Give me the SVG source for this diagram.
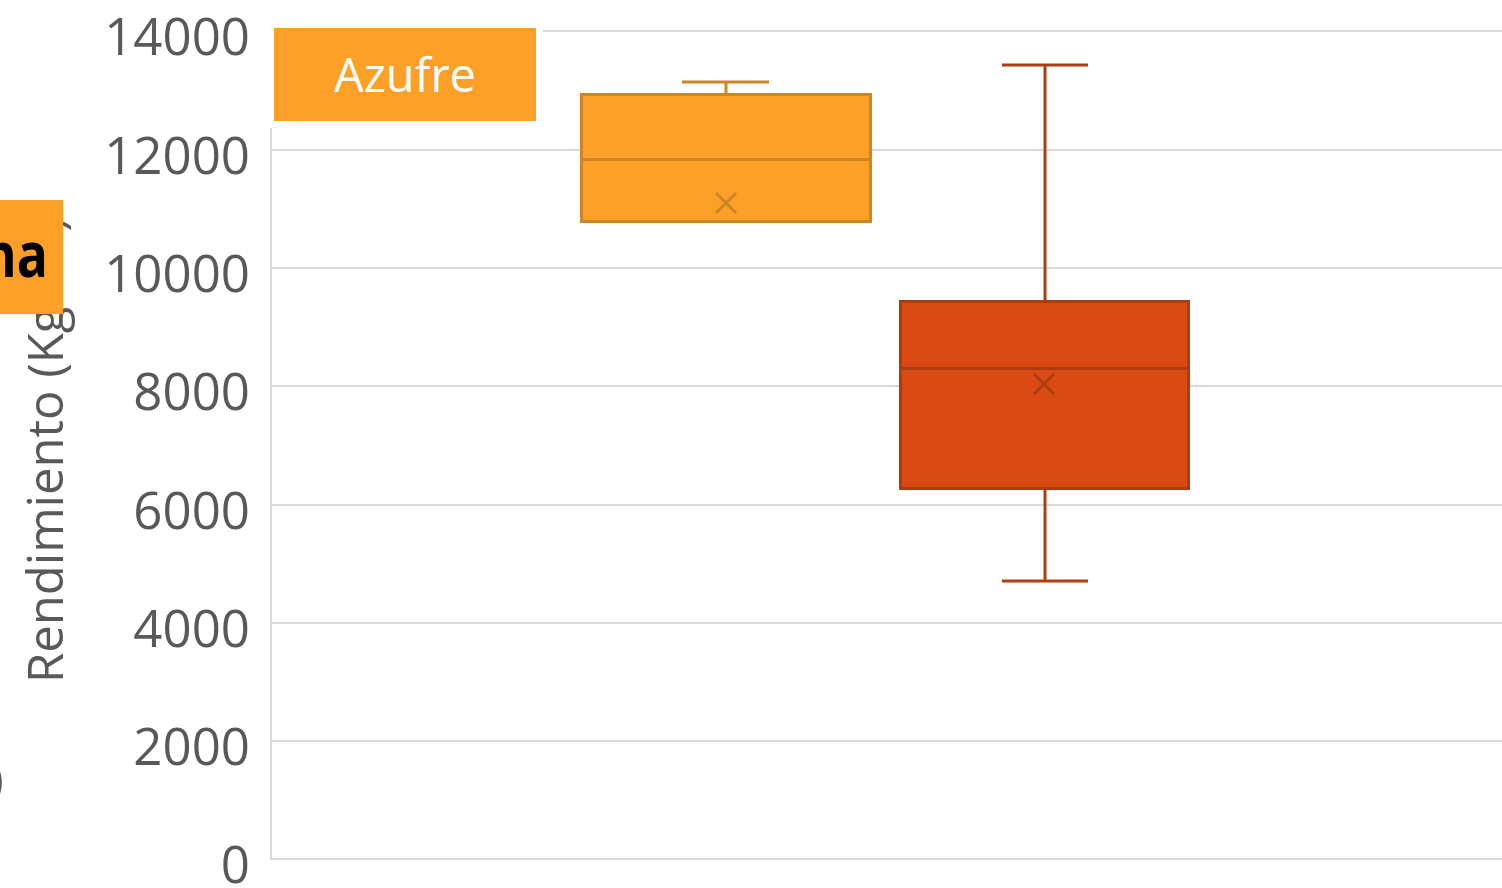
<svg xmlns="http://www.w3.org/2000/svg" width="1502" height="888" viewBox="0 0 1502 888">
<style>
.grid{stroke:#d9d9d9;stroke-width:2;fill:none}
.tick{font-family:"Open Sans","Liberation Sans",sans-serif;font-size:51px;fill:#595959;text-anchor:end}
.title{font-family:"Open Sans","Liberation Sans",sans-serif;font-size:49px;fill:#595959;text-anchor:middle}
.b1{fill:#fda027;stroke:#cd8527;stroke-width:3}
.b1l{stroke:#cd8527;stroke-width:3;fill:none}
.b2{fill:#da4a13;stroke:#ae3c12;stroke-width:3}
.b2l{stroke:#ae3c12;stroke-width:3;fill:none}
</style>
<rect width="1502" height="888" fill="#ffffff"/>
<g id="grid">
<line class="grid" x1="543" y1="31" x2="1502" y2="31"/>
<line class="grid" x1="271" y1="150" x2="1502" y2="150"/>
<line class="grid" x1="271" y1="268" x2="1502" y2="268"/>
<line class="grid" x1="271" y1="386" x2="1502" y2="386"/>
<line class="grid" x1="271" y1="505" x2="1502" y2="505"/>
<line class="grid" x1="271" y1="623" x2="1502" y2="623"/>
<line class="grid" x1="271" y1="741" x2="1502" y2="741"/>
<line class="grid" x1="271" y1="859" x2="1502" y2="859"/>
<line class="grid" x1="271" y1="128" x2="271" y2="860"/>
</g>
<g id="ticks">
<text class="tick" x="250" y="55">14000</text>
<text class="tick" x="250" y="174">12000</text>
<text class="tick" x="250" y="292">10000</text>
<text class="tick" x="250" y="410">8000</text>
<text class="tick" x="250" y="529">6000</text>
<text class="tick" x="250" y="647">4000</text>
<text class="tick" x="250" y="765">2000</text>
<text class="tick" x="250" y="883">0</text>
</g>
<g id="axis-title">
<text class="title" transform="translate(63,450) rotate(-90)" x="0" y="0">Rendimiento (Kg/ha)</text>
</g>
<g id="partial-glyph">
<text x="-11" y="796" style="font-family:'Open Sans','Liberation Sans',sans-serif;font-size:50px;fill:#595959">)</text>
</g>
<g id="connectors">
<line class="b1l" x1="726" y1="82" x2="726" y2="94"/>
<line class="b1l" x1="682" y1="82" x2="769" y2="82"/>
<line class="b2l" x1="1045" y1="65" x2="1045" y2="301"/>
<line class="b2l" x1="1002" y1="65" x2="1088" y2="65"/>
<line class="b2l" x1="1045" y1="488" x2="1045" y2="581"/>
<line class="b2l" x1="1002" y1="581" x2="1088" y2="581"/>
</g>
<g id="box-azufre">
<rect class="b1" x="581.5" y="94.5" width="289" height="127"/>
<line class="b1l" x1="581" y1="159.5" x2="870" y2="159.5"/>
<path class="b1l" d="M716 193 L736 213 M736 193 L716 213" stroke-width="2.5"/>
</g>
<g id="box-2">
<rect class="b2" x="900.5" y="301.5" width="288" height="187"/>
<line class="b2l" x1="900" y1="368.5" x2="1189" y2="368.5"/>
<path class="b2l" d="M1034 374 L1054 394 M1054 374 L1034 394" stroke-width="2.5"/>
</g>
<g id="legend-azufre">
<rect x="274" y="28" width="262" height="93" fill="#fda027"/>
<text x="405" y="92" text-anchor="middle" style="font-family:'Open Sans','Liberation Sans',sans-serif;font-size:47px;fill:#ffffff">Azufre</text>
</g>
<g id="label-na">
<rect x="0" y="200" width="63" height="114" fill="#fda027"/>
<text transform="translate(48,277) scale(0.82,1)" text-anchor="end" style="font-family:'Open Sans','Liberation Sans',sans-serif;font-size:63px;font-weight:bold;fill:#000000">na</text>
</g>
</svg>
